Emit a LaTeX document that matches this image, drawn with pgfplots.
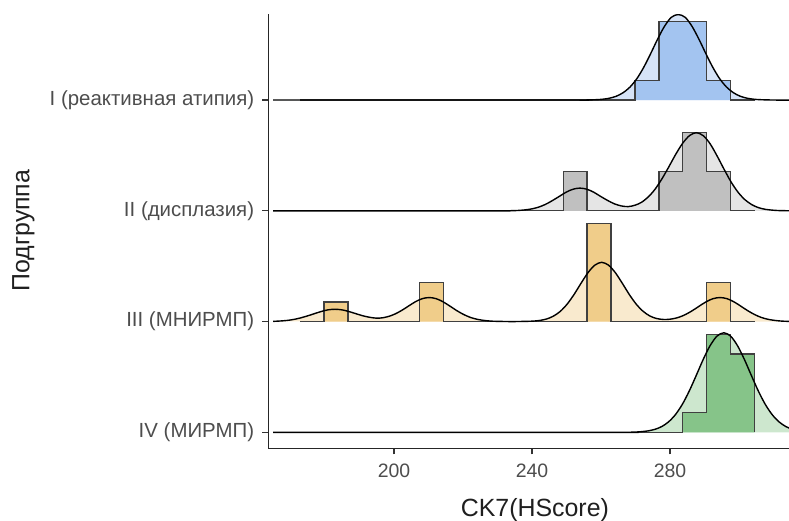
\documentclass[border=0pt]{standalone}
\usepackage{fontspec}
\setmainfont{Liberation Sans}
\usepackage{pgfplots}
\pgfplotsset{compat=1.18}
\usepackage{pgfplotstable}

\definecolor{barI}{HTML}{A3C4F0}
\definecolor{denI}{HTML}{D6E3F7}
\definecolor{barII}{HTML}{C0C0C0}
\definecolor{denII}{HTML}{E5E5E5}
\definecolor{barIII}{HTML}{F0CD8A}
\definecolor{denIII}{HTML}{F9EACE}
\definecolor{barIV}{HTML}{86C489}
\definecolor{denIV}{HTML}{CDE7CE}
\definecolor{ticktext}{HTML}{4D4D4D}

% density curves (height above each ridge baseline)
\pgfplotstableread{
x d
165 0
250 0
254.4 0
258.4 0.003
260.4 0.007
262.4 0.016
264.4 0.034
266.4 0.066
268.4 0.117
270.4 0.193
272.4 0.296
274.4 0.419
276.4 0.549
278.4 0.665
280.4 0.747
282.4 0.772
284.4 0.747
286.4 0.665
288.4 0.549
290.4 0.419
292.4 0.296
294.4 0.193
296.4 0.117
298.4 0.066
300.4 0.034
302.4 0.016
304.4 0.007
306.4 0.003
310.4 0
316 0
}\denItab

\pgfplotstableread{
x d
165 0
229.9 0
233.9 0.001
235.9 0.003
237.9 0.008
239.9 0.017
241.9 0.033
243.9 0.058
245.9 0.092
247.9 0.130
249.9 0.168
251.9 0.195
253.9 0.205
255.9 0.195
257.9 0.168
259.9 0.130
261.9 0.094
263.9 0.063
265.9 0.044
267.9 0.038
269.9 0.051
271.7 0.076
273.7 0.125
275.7 0.196
277.7 0.290
279.7 0.399
281.7 0.512
283.7 0.611
285.7 0.680
287.7 0.705
289.7 0.677
291.7 0.602
293.7 0.493
295.7 0.374
297.7 0.261
299.7 0.169
301.7 0.101
303.7 0.056
305.7 0.028
307.7 0.013
309.7 0.006
311.7 0.002
316 0
}\denIItab

\pgfplotstableread{
x d
165 0.002
166.9 0.005
168.9 0.010
170.9 0.019
172.9 0.033
174.9 0.051
176.9 0.071
178.9 0.091
180.9 0.106
182.9 0.111
184.9 0.106
186.9 0.091
188.9 0.072
190.9 0.053
192.9 0.039
194.9 0.031
196.9 0.035
198.9 0.051
200.2 0.067
202.2 0.100
204.2 0.140
206.2 0.179
208.2 0.207
210.2 0.217
212.2 0.207
214.2 0.179
216.2 0.140
218.2 0.099
220.2 0.064
222.2 0.037
224.2 0.020
226.2 0.010
228.2 0.004
230.2 0.002
234.2 0
238.2 0.002
240.2 0.004
242.2 0.010
244.2 0.023
246.2 0.049
248.2 0.092
250.2 0.158
252.2 0.245
254.2 0.345
256.2 0.440
258.2 0.509
260.2 0.535
262.2 0.509
264.2 0.440
266.2 0.345
268.2 0.245
270.2 0.158
272.2 0.093
274.2 0.050
276.2 0.027
278.2 0.019
280.2 0.022
282.5 0.038
284.5 0.064
286.5 0.099
288.5 0.140
290.5 0.179
292.5 0.207
294.5 0.217
296.5 0.207
298.5 0.179
300.5 0.140
302.5 0.099
304.5 0.064
306.5 0.037
308.5 0.020
310.5 0.010
312.5 0.004
314.5 0.002
318 0
}\denIIItab

\pgfplotstableread{
x d
165 0
263.6 0
267.6 0.001
269.6 0.002
271.6 0.006
273.6 0.013
275.6 0.027
277.6 0.052
279.6 0.095
281.6 0.161
283.6 0.254
285.6 0.374
287.6 0.513
289.6 0.656
291.6 0.781
293.6 0.868
295.6 0.899
297.6 0.868
299.6 0.781
301.6 0.656
303.6 0.513
305.6 0.374
307.6 0.254
309.6 0.161
311.6 0.095
313.6 0.052
315.6 0.027
317.6 0.013
320 0
}\denIVtab

% histograms: left bin edge and bar height (one count = 0.177)
\pgfplotstableread{
x h
172.77 0
269.86 0.177
276.80 0.708
290.67 0.177
297.60 0
304.54 0
}\histItab

\pgfplotstableread{
x h
172.77 0
249.06 0.354
255.99 0
276.80 0.354
283.73 0.708
290.67 0.354
297.60 0
304.54 0
}\histIItab

\pgfplotstableread{
x h
172.77 0
179.71 0.177
186.64 0
207.45 0.354
214.38 0
255.99 0.885
262.93 0
290.67 0.354
297.60 0
304.54 0
}\histIIItab

\pgfplotstableread{
x h
172.77 0
283.73 0.177
290.67 0.885
297.60 0.708
304.54 0
}\histIVtab

\begin{document}
\begin{tikzpicture}
\useasboundingbox (-268.3bp,-72.7bp) rectangle (520.7bp,448.3bp);
\begin{axis}[
  at={(0,0)}, anchor=south west,
  scale only axis, width=520.7bp, height=434.1bp,
  xmin=163.57, xmax=314.5, ymin=0.856, ymax=4.775,
  axis lines*=left,
  axis line style={line width=1.2bp, black!85},
  xtick={200,240,280}, ytick={1,2,3,4},
  yticklabels={{IV (МИРМП)},{III (МНИРМП)},{II (дисплазия)},{I (реактивная атипия)}},
  tick align=outside, major tick length=6bp,
  tick style={line width=1.2bp, black!80},
  /pgf/number format/assume math mode=true,
  /pgf/number format/1000 sep={},
  ticklabel style={color=ticktext, inner sep=0pt},
  yticklabel style={anchor=east, xshift=-8bp, font=\fontsize{20.5}{24}\selectfont},
  xticklabel style={anchor=north, yshift=-9bp, font=\fontsize{19.5}{23}\selectfont},
  xlabel={CK7(HScore)}, ylabel={Подгруппа},
  xlabel style={at={(axis description cs:0.512,-0.158)}, anchor=base, font=\fontsize{25}{30}\selectfont, color=black!88},
  ylabel style={at={(axis description cs:-0.459,0.5017)}, rotate=0, anchor=base, font=\fontsize{25}{30}\selectfont, color=black!88},
]
% group I
\addplot[draw=none, fill=denI, smooth] table[x=x, y expr=\thisrow{d}+4] {\denItab};
\addplot[const plot, fill=barI, draw=black!75, line width=1.3bp] table[x=x, y expr=\thisrow{h}+4] {\histItab};
\addplot[smooth, black, line width=1.4bp] table[x=x, y expr=\thisrow{d}+4] {\denItab};
% group II
\addplot[draw=none, fill=denII, smooth] table[x=x, y expr=\thisrow{d}+3] {\denIItab};
\addplot[const plot, fill=barII, draw=black!75, line width=1.3bp] table[x=x, y expr=\thisrow{h}+3] {\histIItab};
\addplot[smooth, black, line width=1.4bp] table[x=x, y expr=\thisrow{d}+3] {\denIItab};
% group III
\addplot[draw=none, fill=denIII, smooth] table[x=x, y expr=\thisrow{d}+2] {\denIIItab};
\addplot[const plot, fill=barIII, draw=black!75, line width=1.3bp] table[x=x, y expr=\thisrow{h}+2] {\histIIItab};
\addplot[smooth, black, line width=1.4bp] table[x=x, y expr=\thisrow{d}+2] {\denIIItab};
% group IV
\addplot[draw=none, fill=denIV, smooth] table[x=x, y expr=\thisrow{d}+1] {\denIVtab};
\addplot[const plot, fill=barIV, draw=black!75, line width=1.3bp] table[x=x, y expr=\thisrow{h}+1] {\histIVtab};
\addplot[smooth, black, line width=1.4bp] table[x=x, y expr=\thisrow{d}+1] {\denIVtab};
\end{axis}
\end{tikzpicture}
\end{document}
